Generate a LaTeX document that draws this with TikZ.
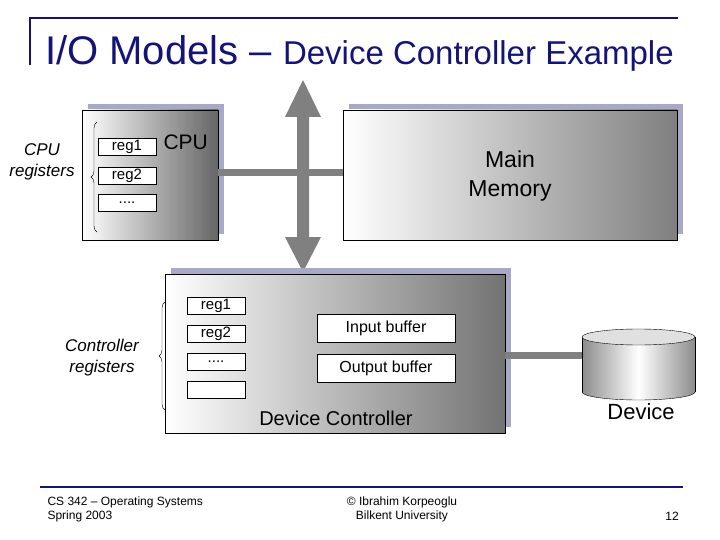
\documentclass[tikz,border=0pt]{standalone}
\usepackage{fontspec}
\setmainfont{Liberation Sans}
\usetikzlibrary{decorations.pathreplacing,arrows.meta}
\definecolor{navy}{RGB}{20,20,120}
\definecolor{shad}{RGB}{168,168,200}
\definecolor{bus}{RGB}{128,128,128}
\begin{document}
\begin{tikzpicture}[x=1pt,y=-1pt,
  reg/.style={draw,fill=white,minimum width=58pt,minimum height=17pt,inner sep=0pt,font=\fontsize{15}{15}\selectfont},
  buf/.style={draw,fill=white,minimum width=138pt,minimum height=28pt,inner sep=0pt,font=\fontsize{16}{16}\selectfont},
  lbl/.style={font=\fontsize{17}{21}\selectfont\itshape,align=center},
  brc/.style={decorate,decoration={brace,amplitude=6pt},thin}]
\useasboundingbox (0,0) rectangle (720,540);
% frame lines
\draw[navy,line width=1.5pt] (30,65) -- (30,18) -- (678,18);
\draw[navy,line width=1.5pt] (40,487) -- (683,487);
\node[anchor=base west,text=navy,inner sep=0pt] (title) at (45,65) {\fontsize{40}{40}\selectfont I/O Models – \fontsize{33}{33}\selectfont Device Controller Example};
% CPU
\fill[shad] (88,104) rectangle (224,234);
\shade[left color=white,right color=black!60,draw=black] (82,110) rectangle (218,240);
\node[reg] (r1) at (127,147) {reg1};
\node[reg] (r2) at (127,176) {reg2};
\node[reg] (r3) at (127,203) {....};
\node[anchor=west,font=\fontsize{21}{21}\selectfont] (cpu) at (160,142) {CPU};
\draw[brc] (97,232) -- (97,122);
\node[lbl] (cpureg) at (42,162) {CPU\\registers};
% Memory
\fill[shad] (349,104) rectangle (683,234);
\shade[left color=white,right color=black!50,draw=black] (343,110) rectangle (677,240);
\node[align=center,font=\fontsize{23}{29}\selectfont] (mem) at (510,176) {Main\\Memory};
% bus
\draw[bus,line width=7pt] (218,173) -- (343,173);
\fill[bus] (297,117) -- (297,237) -- (285,237) -- (303,272) -- (321,237) -- (309,237) -- (309,117) -- (321,117) -- (303,80) -- (285,117) -- cycle;
% Device controller
\fill[shad] (171,268) rectangle (511,427);
\shade[left color=white,right color=black!55,draw=black] (165,274) rectangle (505,433);
\node[reg] (c1) at (216,306) {reg1};
\node[reg] (c2) at (216,334) {reg2};
\node[reg] (c3) at (216,362) {....};
\node[reg] (c4) at (216,390) {};
\node[buf] (ib) at (386,328) {Input buffer};
\node[buf] (ob) at (386,368) {Output buffer};
\node[font=\fontsize{20}{20}\selectfont] (dc) at (336,418) {Device Controller};
\draw[brc] (165,410) -- (165,302);
\node[lbl] (ctlreg) at (102,358) {Controller\\registers};
% device
\draw[bus,line width=7pt] (505,355) -- (582,355);
\shade[left color=black!45,right color=black!45,middle color=white] (582,337) rectangle (695,392);
\shade[left color=black!45,right color=black!45,middle color=white] (638.5,392) ellipse[x radius=56.5,y radius=8];
\draw (582,337) -- (582,392) (695,337) -- (695,392);
\draw (582,392) arc[start angle=180,end angle=0,x radius=56.5,y radius=8];
\draw[fill=black!12] (638.5,337) ellipse[x radius=56.5,y radius=8];
\node[font=\fontsize{22}{22}\selectfont] (dev) at (641,412) {Device};
% footer
\node[anchor=west,align=left,font=\fontsize{12}{14}\selectfont] (f1) at (44,509) {CS 342 – Operating Systems\\Spring 2003};
\node[align=center,font=\fontsize{12}{14}\selectfont] (f2) at (402,509) {© Ibrahim Korpeoglu\\Bilkent University};
\node[font=\fontsize{12}{12}\selectfont] (f3) at (672,516) {12};
\end{tikzpicture}
\end{document}
